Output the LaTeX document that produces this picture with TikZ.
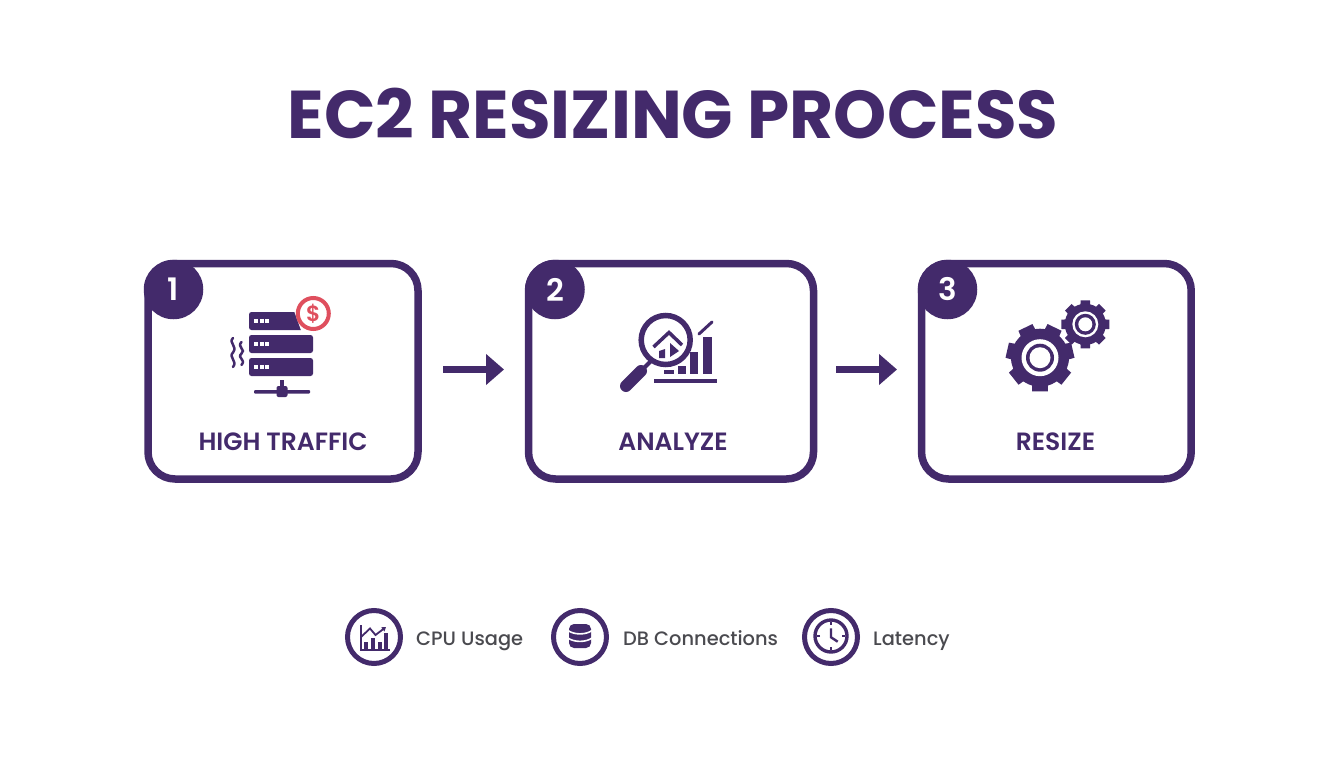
\documentclass[tikz,border=0pt]{standalone}
\usepackage{fontspec}
\setmainfont{Poppins}
\newfontfamily\popsemi{Poppins SemiBold}
\newfontfamily\popmed{Poppins Medium}
\usetikzlibrary{arrows.meta,calc}
\definecolor{pur}{HTML}{432A6B}
\definecolor{redc}{HTML}{DF4F5E}
\definecolor{greyt}{HTML}{4A4A4F}
\tikzset{
  x=1pt,y=-1pt,
  card/.style={draw=pur,line width=7.5pt,fill=white,rounded corners=27pt},
  badge/.style={circle,fill=pur,text=white,inner sep=0pt,minimum size=59.5pt,font=\popsemi\fontsize{31}{31}\selectfont},
  cardlabel/.style={text=pur,font=\popsemi\fontsize{25}{26}\selectfont,inner sep=0pt,anchor=base},
  legendc/.style={circle,draw=pur,line width=5pt,fill=white,minimum size=53pt,inner sep=0pt},
  legendt/.style={text=greyt,font=\popmed\fontsize{19.4}{20}\selectfont,inner sep=0pt,anchor=base west},
  flow/.style={draw=pur,line width=7pt,-{Triangle[length=18pt,width=30pt]}},
  pl/.style={draw=pur,line cap=round},
}
% x y outer-radius tooth-count start-angle half-tooth-width
\newcommand{\gear}[6]{%
  \fill[pur] (#1,#2) circle ({#3*0.84});
  \pgfmathsetmacro{\gstep}{360/#4}
  \foreach \i in {1,...,#4} {
    \pgfmathsetmacro{\ga}{#5+\i*\gstep}
    \fill[pur] ($(#1,#2)+(\ga-#6*1.35:#3*0.78)$) -- ($(#1,#2)+(\ga-#6:#3)$) -- ($(#1,#2)+(\ga+#6:#3)$) -- ($(#1,#2)+(\ga+#6*1.35:#3*0.78)$) -- cycle;
  }
}
\begin{document}
\begin{tikzpicture}
\useasboundingbox (0,0) rectangle (1344,768);
\fill[white] (0,0) rectangle (1344,768);
\node[text=pur,font=\bfseries\fontsize{67.6}{70}\selectfont,inner sep=0pt] (title) at (673,114) {EC2 RESIZING PROCESS};

% cards
\draw[card] (148,263.5) rectangle (418,479);
\draw[card] (528.5,263.5) rectangle (813.5,479);
\draw[card] (921.5,263.5) rectangle (1191.2,479);
\node[badge] (b1) at (173.5,289.5) {1};
\node[badge] (b2) at (555,289.5) {2};
\node[badge] (b3) at (947.5,289.5) {3};
\node[cardlabel] (l1) at (283,450) {HIGH TRAFFIC};
\node[cardlabel] (l2) at (673,450) {ANALYZE};
\node[cardlabel] (l3) at (1055.5,450) {RESIZE};

% server icon
\fill[pur,rounded corners=2.5pt] (249,312) rectangle (313,330);
\fill[pur,rounded corners=2.5pt] (249,335) rectangle (313,353);
\fill[pur,rounded corners=2.5pt] (249,358) rectangle (313,376);
\foreach \y in {321,344,367} \foreach \x in {256,261.5,267} \fill[white] (\x-2,\y-2) rectangle (\x+2,\y+2);
\fill[white] (293,308) -- (335,308) -- (335,334) -- (302,333) -- cycle;
\node[circle,draw=redc,line width=4pt,fill=white,minimum size=31pt,inner sep=0pt,text=redc,font=\popsemi\fontsize{22}{22}\selectfont] (dollar) at (313.3,313.5) {\$};
\fill[pur] (280,380) rectangle (284,392);
\fill[pur,rounded corners=1pt] (254,390) rectangle (310,393.5);
\fill[pur,rounded corners=2pt] (276.5,386) rectangle (287.5,397);
\foreach \x/\a/\b in {233/338/367,241.5/342/365}
  \draw[pl,line width=2.5pt] (\x,\a) .. controls (\x-5,\a+5) and (\x+5,\a+8) .. (\x,{(\a+\b)/2}) .. controls (\x-5,{(\a+\b)/2+5}) and (\x+5,\b-6) .. (\x,\b);

% analyze icon
\fill[pur] (654,378.5) rectangle (717,382.7);
\fill[pur] (703,337) rectangle (712,374);
\fill[pur] (690,352) rectangle (698,374);
\fill[pur] (678,366) rectangle (686,374);
\fill[pur] (664,370) rectangle (674,374);
\draw[pl,line width=3pt] (699,334) -- (712,322);
\draw[pur,line width=12pt,line cap=round] (626,386) -- (641,371);
\draw[pur,line width=4pt] (641,371) -- (652,360);
\node[circle,draw=pur,line width=5.5pt,fill=white,minimum size=49pt,inner sep=0pt] (lens) at (665.7,340) {};
\draw[pur,line width=3.5pt] (653.5,347) -- (669,332.5) -- (682,345);
\fill[pur] (659,351) -- (665,349) -- (665,358) -- (659,358) -- cycle;
\fill[pur] (670,343) -- (679,351) -- (670,357) -- cycle;

% gears
\gear{1040}{357.7}{34.5}{7}{90}{13}
\fill[white] (1040,357.7) circle (18.5);
\fill[pur] (1040,357.7) circle (14);
\fill[white] (1040,357.7) circle (10.5);
\gear{1085.3}{324.3}{24.5}{8}{0}{11}
\fill[white] (1085.3,324.3) circle (13);
\fill[pur] (1085.3,324.3) circle (10.5);
\fill[white] (1085.3,324.3) circle (7);

% arrows between cards
\coordinate (a1s) at (443,369.5);
\coordinate (a1e) at (504,369.5);
\coordinate (a2s) at (836,369.5);
\coordinate (a2e) at (897,369.5);
\draw[flow] (a1s) -- (a1e);
\draw[flow] (a2s) -- (a2e);

% legend
\node[legendc] (k1) at (374,637) {};
\node[legendc] (k2) at (580,637) {};
\node[legendc] (k3) at (831,637) {};
\node[legendt] (t1) at (416,645) {CPU Usage};
\node[legendt] (t2) at (623,645) {DB Connections};
\node[legendt] (t3) at (873,645) {Latency};
% cpu icon
\draw[pur,line width=2pt] (360.7,625) -- (360.7,649.5) -- (390,649.5);
\fill[pur] (363.5,641.7) rectangle (368,649);
\fill[pur] (371,638) rectangle (375,649);
\fill[pur] (377.5,641.7) rectangle (382,649);
\fill[pur] (384,633) rectangle (388,649);
\draw[pur,line width=1.8pt,-{Triangle[length=4pt,width=5pt]}] (361,637) -- (370,628.5) -- (375.5,635) -- (386,627);
% db icon
\fill[pur,rounded corners=5pt] (569,624) rectangle (591,648);
\draw[white,line width=1.6pt] (568,630.5) .. controls (574,635) and (586,635) .. (592,630.5);
\draw[white,line width=1.6pt] (568,638) .. controls (574,642.5) and (586,642.5) .. (592,638);
% clock icon
\node[circle,draw=pur,line width=3.4pt,minimum size=32pt,inner sep=0pt] (clock) at (831,636) {};
\draw[pur,line width=2.4pt] (831,628.3) -- (831,637.3) -- (837.7,641.7);
\foreach \a in {0,90,180,270} \draw[pur,line width=1.2pt] ($(831,636)+(\a:11)$) -- ($(831,636)+(\a:14)$);
\end{tikzpicture}
\end{document}
